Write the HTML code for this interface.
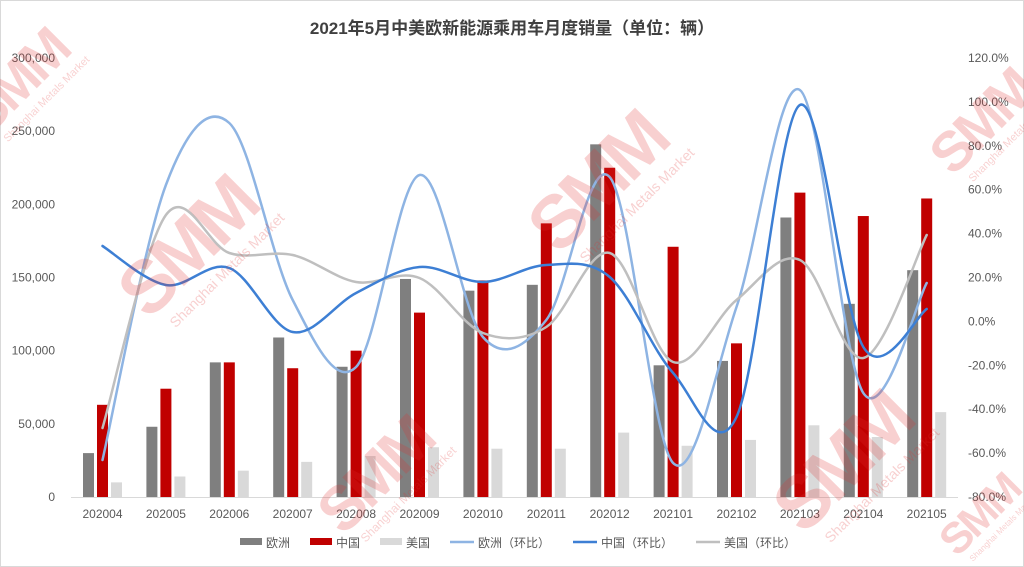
<!DOCTYPE html>
<html><head><meta charset="utf-8"><style>
html,body{margin:0;background:#fff;width:1024px;height:567px;overflow:hidden;font-family:"Liberation Sans","Noto Sans CJK SC",sans-serif}
svg{display:block;overflow:hidden}
</style></head><body>
<svg id="c" width="1024" height="567" viewBox="0 0 1024 567" xmlns="http://www.w3.org/2000/svg"></svg>
<script>
const s=document.getElementById('c');let h='';
h+='<defs><clipPath id="cl"><rect x="0" y="0" width="1024" height="567"/></clipPath></defs>';
h+='<rect x="0.5" y="0.5" width="1023" height="566" fill="#fff" stroke="#d9d9d9"/>';
h+='<text x="512" y="34" text-anchor="middle" font-size="17" font-weight="bold" fill="#404040" font-family="Liberation Sans,Noto Sans CJK SC,sans-serif">2021年5月中美欧新能源乘用车月度销量（单位：辆）</text>';
function wm(x,y,sc){return `<g transform="translate(${x},${y}) rotate(-45) scale(${sc})" opacity="0.22"><text x="0" y="0" font-size="62" font-weight="bold" fill="#e03030" font-family="Liberation Sans,sans-serif" text-anchor="middle" letter-spacing="-4">SMM</text><text x="10" y="20" font-size="12" fill="#e03030" text-anchor="middle">Shanghai Metals Market</text></g>`;}
const ys=v=>497-v*439/300000, yp=p=>497-(p+80)*439/200;
for(let i=0;i<=6;i++){const v=i*50000,y=ys(v);h+=`<text x="55" y="${y+4}" text-anchor="end" font-size="12" fill="#595959">${v?v.toLocaleString('en-US'):'0'}</text>`;}
for(let i=0;i<=10;i++){const p=-80+i*20,y=yp(p);h+=`<text x="968" y="${y+4}" font-size="12" fill="#595959">${p.toFixed(1)}%</text>`;}
h+='<line x1="71" y1="497.5" x2="958" y2="497.5" stroke="#d9d9d9"/>';
const lab=['202004','202005','202006','202007','202008','202009','202010','202011','202012','202101','202102','202103','202104','202105'];
const eu=[30000,48000,92000,109000,89000,149000,141000,145000,241000,90000,93000,191000,132000,155000];
const cn=[63000,74000,92000,88000,100000,126000,148000,187000,225000,171000,105000,208000,192000,204000];
const us=[10000,14000,18000,24000,28000,34000,33000,33000,44000,35000,39000,49000,41000,58000];
const cx=i=>102.5+63.4*i;
lab.forEach((l,i)=>{const c=cx(i);
[[eu,'#7f7f7f',-14],[cn,'#c00000',0],[us,'#d9d9d9',14]].forEach(([d,col,o])=>{const y=ys(d[i]);h+=`<rect x="${c+o-5.5}" y="${y}" width="11" height="${497-y}" fill="${col}"/>`;});
h+=`<text x="${c}" y="518" text-anchor="middle" font-size="12" fill="#595959">${l}</text>`;});
function path(ys_,col,w){const p=ys_.map((y,i)=>[cx(i),y]);let d=`M${p[0][0]},${p[0][1]}`;
for(let i=0;i<p.length-1;i++){const p0=p[i-1]||p[i],p1=p[i],p2=p[i+1],p3=p[i+2]||p[i+1];const t=1/6;
d+=` C${p1[0]+(p2[0]-p0[0])*t},${p1[1]+(p2[1]-p0[1])*t} ${p2[0]-(p3[0]-p1[0])*t},${p2[1]-(p3[1]-p1[1])*t} ${p2[0]},${p2[1]}`;}
return `<path d="${d}" fill="none" stroke="${col}" stroke-width="${w}" stroke-linecap="round"/>`;}
h+=path([460,185,123,300,367,175,337,320,177,463,307,90,393,283],'#8eb4e3',2.5);
h+=path([428,215,253,255,282,278,333,327,253,362,300,260,358,235],'#bfbfbf',2.5);
h+=path([246,285,268,332,293,267,282,265,277,373,417,105,347,309],'#3d7fd4',2.5);
h+='<g clip-path="url(#cl)">'+wm(205,265,1.2)+wm(615,200,1.2)+wm(860,480,1.2)+wm(390,490,1)+wm(30,95,0.9)+wm(995,135,0.9)+wm(990,525,0.7)+'</g>';
const L=[['欧洲','#7f7f7f','b',240],['中国','#c00000','b',310],['美国','#d9d9d9','b',380],['欧洲（环比）','#8eb4e3','l',450],['中国（环比）','#3d7fd4','l',573],['美国（环比）','#bfbfbf','l',696]];
L.forEach(([t,c,k,x])=>{if(k=='b')h+=`<rect x="${x}" y="538" width="22" height="7" fill="${c}"/>`;else h+=`<line x1="${x}" y1="542" x2="${x+24}" y2="542" stroke="${c}" stroke-width="2.5"/>`;
h+=`<text x="${x+(k=='b'?26:28)}" y="547" font-size="12" fill="#595959" font-family="Liberation Sans,Noto Sans CJK SC,sans-serif">${t}</text>`;});
s.innerHTML=h;
</script>
</body></html>
